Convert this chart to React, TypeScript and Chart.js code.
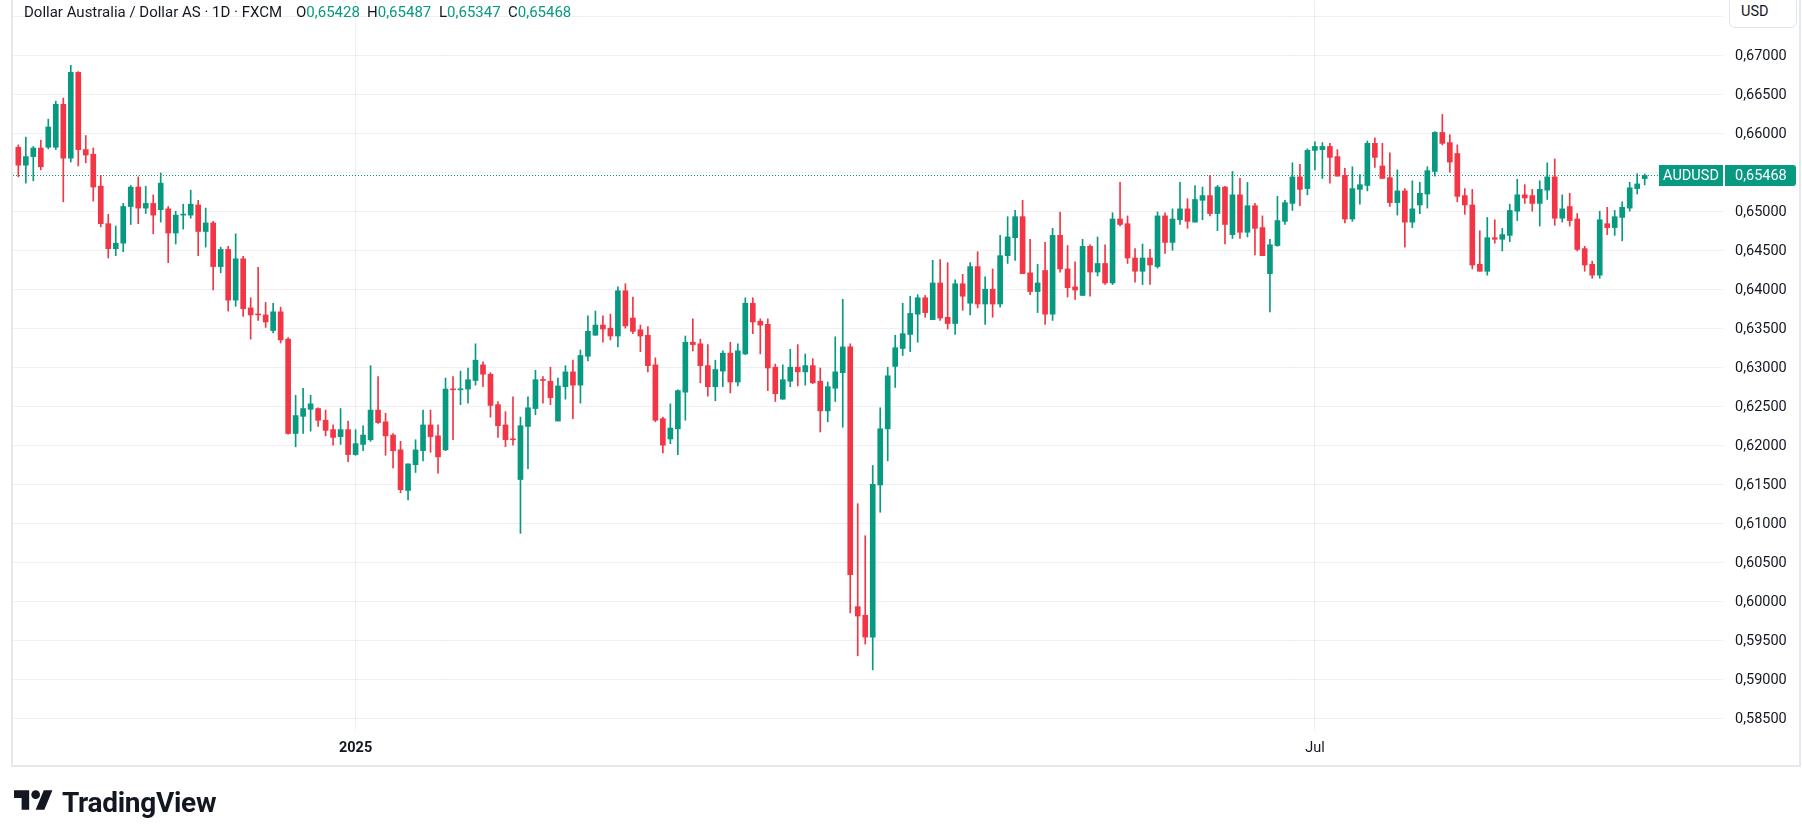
import React, { useEffect, useRef } from 'react';
import { Chart, registerables } from 'chart.js';

Chart.register(...registerables);

const UP = '#089981';
const DOWN = '#F23645';
const TEXT = '#131722';
const GRID = 'rgba(42, 46, 57, 0.07)';
const FRAME = '#e6e8ee';
const FONT = 'Roboto, "Liberation Sans", Arial, sans-serif';

const SYMBOL = 'AUDUSD';
const TITLE = 'Dollar Australia / Dollar AS · 1D · FXCM';
const CURRENCY = 'USD';

const OPEN = [
  0.6583, 0.6560, 0.6571, 0.6582, 0.6583, 0.6583, 0.6638, 0.6569, 0.6679, 0.6580,
  0.6574, 0.6533, 0.6485, 0.6453, 0.6460, 0.6507, 0.6532, 0.6505, 0.6511, 0.6503,
  0.6504, 0.6473, 0.6496, 0.6496, 0.6509, 0.6475, 0.6486, 0.6430, 0.6452, 0.6387,
  0.6440, 0.6377, 0.6369, 0.6368, 0.6348, 0.6372, 0.6337, 0.6216, 0.6238, 0.6247,
  0.6248, 0.6233, 0.6221, 0.6212, 0.6221, 0.6189, 0.6202, 0.6208, 0.6246, 0.6231,
  0.6214, 0.6195, 0.6143, 0.6176, 0.6194, 0.6227, 0.6213, 0.6195, 0.6273, 0.6272,
  0.6273, 0.6284, 0.6304, 0.6292, 0.6253, 0.6227, 0.6209, 0.6157, 0.6225, 0.6248,
  0.6285, 0.6283, 0.6232, 0.6276, 0.6295, 0.6278, 0.6315, 0.6342, 0.6355, 0.6351,
  0.6341, 0.6399, 0.6364, 0.6349, 0.6342, 0.6304, 0.6235, 0.6209, 0.6222, 0.6269,
  0.6333, 0.6331, 0.6303, 0.6276, 0.6296, 0.6319, 0.6282, 0.6318, 0.6383, 0.6360,
  0.6356, 0.6301, 0.6260, 0.6283, 0.6301, 0.6295, 0.6303, 0.6283, 0.6245, 0.6274,
  0.6294, 0.6327, 0.5994, 0.5983, 0.5955, 0.6150, 0.6222, 0.6302, 0.6325, 0.6343,
  0.6369, 0.6390, 0.6362, 0.6409, 0.6365, 0.6357, 0.6408, 0.6383, 0.6430, 0.6382,
  0.6401, 0.6382, 0.6444, 0.6467, 0.6494, 0.6422, 0.6398, 0.6425, 0.6369, 0.6470,
  0.6427, 0.6404, 0.6393, 0.6456, 0.6423, 0.6434, 0.6409, 0.6491, 0.6485, 0.6441,
  0.6424, 0.6441, 0.6430, 0.6495, 0.6461, 0.6490, 0.6504, 0.6487, 0.6515, 0.6521,
  0.6498, 0.6532, 0.6471, 0.6522, 0.6474, 0.6508, 0.6480, 0.6421, 0.6457, 0.6488,
  0.6511, 0.6545, 0.6530, 0.6579, 0.6580, 0.6584, 0.6571, 0.6547, 0.6491, 0.6529,
  0.6534, 0.6588, 0.6559, 0.6544, 0.6512, 0.6527, 0.6487, 0.6509, 0.6523, 0.6552,
  0.6602, 0.6589, 0.6575, 0.6521, 0.6509, 0.6433, 0.6424, 0.6467, 0.6465, 0.6470,
  0.6501, 0.6522, 0.6521, 0.6511, 0.6528, 0.6545, 0.6492, 0.6507, 0.6491, 0.6453,
  0.6433, 0.6419, 0.6485, 0.6480, 0.6493, 0.6505, 0.6530, 0.65428,
];

const HIGH = [
  0.6586, 0.6596, 0.6584, 0.6592, 0.6619, 0.6642, 0.6646, 0.6688, 0.6680, 0.6598,
  0.6582, 0.6547, 0.6497, 0.6482, 0.6511, 0.6534, 0.6545, 0.6533, 0.6522, 0.6550,
  0.6507, 0.6501, 0.6510, 0.6528, 0.6515, 0.6505, 0.6488, 0.6455, 0.6456, 0.6472,
  0.6443, 0.6390, 0.6429, 0.6384, 0.6383, 0.6378, 0.6339, 0.6265, 0.6274, 0.6265,
  0.6249, 0.6246, 0.6227, 0.6248, 0.6232, 0.6221, 0.6226, 0.6303, 0.6289, 0.6242,
  0.6216, 0.6206, 0.6177, 0.6208, 0.6246, 0.6246, 0.6227, 0.6287, 0.6289, 0.6296,
  0.6300, 0.6331, 0.6308, 0.6294, 0.6257, 0.6244, 0.6263, 0.6237, 0.6263, 0.6297,
  0.6289, 0.6301, 0.6287, 0.6303, 0.6310, 0.6323, 0.6367, 0.6373, 0.6367, 0.6369,
  0.6404, 0.6408, 0.6391, 0.6355, 0.6353, 0.6313, 0.6237, 0.6254, 0.6272, 0.6341,
  0.6363, 0.6337, 0.6330, 0.6310, 0.6322, 0.6333, 0.6331, 0.6390, 0.6390, 0.6363,
  0.6363, 0.6305, 0.6304, 0.6324, 0.6330, 0.6318, 0.6312, 0.6300, 0.6282, 0.6340,
  0.6388, 0.6331, 0.6126, 0.6085, 0.6175, 0.6249, 0.6301, 0.6342, 0.6383, 0.6392,
  0.6394, 0.6393, 0.6438, 0.6439, 0.6435, 0.6413, 0.6420, 0.6435, 0.6449, 0.6417,
  0.6427, 0.6470, 0.6494, 0.6502, 0.6515, 0.6465, 0.6433, 0.6461, 0.6479, 0.6500,
  0.6457, 0.6436, 0.6465, 0.6458, 0.6468, 0.6458, 0.6499, 0.6538, 0.6495, 0.6453,
  0.6459, 0.6452, 0.6500, 0.6499, 0.6504, 0.6538, 0.6517, 0.6534, 0.6532, 0.6547,
  0.6534, 0.6533, 0.6552, 0.6543, 0.6538, 0.6511, 0.6495, 0.6465, 0.6520, 0.6515,
  0.6563, 0.6561, 0.6581, 0.6590, 0.6589, 0.6588, 0.6580, 0.6556, 0.6558, 0.6548,
  0.6591, 0.6595, 0.6588, 0.6576, 0.6554, 0.6530, 0.6540, 0.6538, 0.6558, 0.6603,
  0.6625, 0.6599, 0.6586, 0.6530, 0.6529, 0.6476, 0.6493, 0.6490, 0.6479, 0.6510,
  0.6542, 0.6535, 0.6529, 0.6540, 0.6563, 0.6568, 0.6522, 0.6524, 0.6498, 0.6456,
  0.6437, 0.6501, 0.6506, 0.6502, 0.6513, 0.6538, 0.6549, 0.65487,
];

const LOW = [
  0.6545, 0.6537, 0.6540, 0.6554, 0.6581, 0.6580, 0.6513, 0.6564, 0.6559, 0.6563,
  0.6514, 0.6481, 0.6441, 0.6444, 0.6449, 0.6484, 0.6485, 0.6498, 0.6472, 0.6487,
  0.6435, 0.6459, 0.6478, 0.6492, 0.6444, 0.6455, 0.6400, 0.6422, 0.6373, 0.6379,
  0.6366, 0.6337, 0.6361, 0.6352, 0.6345, 0.6332, 0.6215, 0.6199, 0.6216, 0.6219,
  0.6225, 0.6213, 0.6201, 0.6202, 0.6180, 0.6188, 0.6194, 0.6206, 0.6229, 0.6188,
  0.6172, 0.6140, 0.6131, 0.6166, 0.6181, 0.6192, 0.6165, 0.6194, 0.6208, 0.6253,
  0.6255, 0.6278, 0.6276, 0.6237, 0.6211, 0.6199, 0.6201, 0.6088, 0.6171, 0.6240,
  0.6255, 0.6253, 0.6232, 0.6260, 0.6235, 0.6255, 0.6309, 0.6342, 0.6333, 0.6336,
  0.6327, 0.6351, 0.6344, 0.6321, 0.6295, 0.6231, 0.6191, 0.6203, 0.6189, 0.6233,
  0.6322, 0.6281, 0.6264, 0.6258, 0.6276, 0.6268, 0.6277, 0.6317, 0.6344, 0.6318,
  0.6271, 0.6257, 0.6260, 0.6276, 0.6277, 0.6278, 0.6280, 0.6218, 0.6231, 0.6257,
  0.6224, 0.5986, 0.5931, 0.5946, 0.5913, 0.6115, 0.6181, 0.6275, 0.6316, 0.6321,
  0.6333, 0.6365, 0.6362, 0.6361, 0.6350, 0.6343, 0.6374, 0.6368, 0.6377, 0.6356,
  0.6365, 0.6378, 0.6434, 0.6438, 0.6421, 0.6394, 0.6371, 0.6356, 0.6361, 0.6423,
  0.6391, 0.6388, 0.6393, 0.6392, 0.6418, 0.6407, 0.6407, 0.6482, 0.6434, 0.6410,
  0.6407, 0.6407, 0.6428, 0.6447, 0.6451, 0.6484, 0.6479, 0.6487, 0.6490, 0.6495,
  0.6476, 0.6459, 0.6466, 0.6466, 0.6468, 0.6445, 0.6444, 0.6372, 0.6456, 0.6484,
  0.6502, 0.6508, 0.6522, 0.6554, 0.6543, 0.6537, 0.6546, 0.6486, 0.6488, 0.6510,
  0.6527, 0.6557, 0.6543, 0.6507, 0.6496, 0.6455, 0.6480, 0.6498, 0.6505, 0.6546,
  0.6586, 0.6551, 0.6513, 0.6497, 0.6427, 0.6424, 0.6419, 0.6460, 0.6450, 0.6462,
  0.6489, 0.6511, 0.6501, 0.6482, 0.6516, 0.6483, 0.6487, 0.6482, 0.6450, 0.6424,
  0.6415, 0.6415, 0.6471, 0.6470, 0.6463, 0.6501, 0.6523, 0.65347,
];

const CLOSE = [
  0.6560, 0.6571, 0.6582, 0.6558, 0.6609, 0.6638, 0.6569, 0.6679, 0.6580, 0.6573,
  0.6532, 0.6485, 0.6453, 0.6460, 0.6507, 0.6532, 0.6505, 0.6511, 0.6496, 0.6537,
  0.6473, 0.6496, 0.6497, 0.6510, 0.6475, 0.6486, 0.6430, 0.6452, 0.6387, 0.6440,
  0.6376, 0.6368, 0.6368, 0.6359, 0.6372, 0.6336, 0.6216, 0.6239, 0.6248, 0.6254,
  0.6233, 0.6220, 0.6211, 0.6221, 0.6189, 0.6203, 0.6214, 0.6246, 0.6230, 0.6213,
  0.6194, 0.6144, 0.6177, 0.6195, 0.6227, 0.6212, 0.6186, 0.6273, 0.6272, 0.6273,
  0.6285, 0.6310, 0.6292, 0.6252, 0.6226, 0.6208, 0.6208, 0.6226, 0.6249, 0.6285,
  0.6284, 0.6262, 0.6277, 0.6295, 0.6278, 0.6316, 0.6347, 0.6355, 0.6350, 0.6341,
  0.6399, 0.6354, 0.6347, 0.6341, 0.6303, 0.6233, 0.6201, 0.6223, 0.6271, 0.6333,
  0.6330, 0.6303, 0.6276, 0.6298, 0.6319, 0.6282, 0.6322, 0.6383, 0.6359, 0.6355,
  0.6300, 0.6267, 0.6285, 0.6301, 0.6295, 0.6303, 0.6281, 0.6245, 0.6276, 0.6295,
  0.6327, 0.6035, 0.5982, 0.5955, 0.6151, 0.6222, 0.6290, 0.6326, 0.6344, 0.6370,
  0.6390, 0.6371, 0.6409, 0.6364, 0.6357, 0.6408, 0.6392, 0.6430, 0.6382, 0.6401,
  0.6382, 0.6444, 0.6468, 0.6494, 0.6421, 0.6398, 0.6409, 0.6369, 0.6470, 0.6427,
  0.6403, 0.6400, 0.6456, 0.6423, 0.6434, 0.6409, 0.6491, 0.6484, 0.6441, 0.6424,
  0.6441, 0.6432, 0.6495, 0.6461, 0.6491, 0.6504, 0.6488, 0.6516, 0.6521, 0.6498,
  0.6532, 0.6484, 0.6522, 0.6474, 0.6508, 0.6479, 0.6444, 0.6458, 0.6489, 0.6512,
  0.6545, 0.6529, 0.6579, 0.6584, 0.6584, 0.6570, 0.6546, 0.6491, 0.6530, 0.6535,
  0.6588, 0.6570, 0.6543, 0.6512, 0.6527, 0.6487, 0.6504, 0.6524, 0.6553, 0.6602,
  0.6588, 0.6564, 0.6520, 0.6509, 0.6432, 0.6424, 0.6467, 0.6465, 0.6471, 0.6502,
  0.6522, 0.6518, 0.6511, 0.6529, 0.6545, 0.6492, 0.6504, 0.6489, 0.6452, 0.6432,
  0.6419, 0.6490, 0.6480, 0.6494, 0.6506, 0.6531, 0.6536, 0.65468,
];

// price-axis tick values and time-axis ticks (bar index of first bar of period)
const PRICE_TICKS = [
  0.585, 0.59, 0.595, 0.6, 0.605, 0.61, 0.615, 0.62, 0.625, 0.63,
  0.635, 0.64, 0.645, 0.65, 0.655, 0.66, 0.665, 0.67, 0.675,
];
const TIME_TICK_INDEX = [45, 173];
const TIME_TICK_LABELS = ['2025', 'Jul'];

const fmt = (v: number) => v.toFixed(5).replace('.', ',');

export default function App() {
  const ref = useRef<HTMLCanvasElement>(null);

  useEffect(() => {
    const canvas = ref.current;
    if (!canvas) return;
    const idx = OPEN.map((_, i) => i);
    const colors = CLOSE.map((c, i) => (c >= OPEN[i] ? UP : DOWN));
    const last = CLOSE.length - 1;

    const overlay = {
      id: 'tvOverlay',
      beforeDatasetsDraw(chart: any) {
        const { ctx, chartArea: a, scales } = chart;
        const y = Math.round(scales.y.getPixelForValue(CLOSE[last])) + 0.5;
        ctx.save();
        ctx.strokeStyle = UP;
        ctx.lineWidth = 1;
        ctx.setLineDash([1, 2]);
        ctx.beginPath();
        ctx.moveTo(a.left, y);
        ctx.lineTo(a.right - 64, y);
        ctx.stroke();
        ctx.restore();
      },
      afterDraw(chart: any) {
        const { ctx, chartArea: a, scales } = chart;
        const yc = scales.y.getPixelForValue(CLOSE[last]);
        const top = Math.round(yc - 10.5);
        const h = 21;
        ctx.save();
        ctx.fillStyle = UP;
        ctx.fillRect(a.right - 64, top, 64, h);
        ctx.beginPath();
        if (ctx.roundRect) ctx.roundRect(a.right + 2, top, 71, h, [0, 3, 3, 0]);
        else ctx.rect(a.right + 2, top, 71, h);
        ctx.fill();
        ctx.fillStyle = '#ffffff';
        ctx.font = `14.5px ${FONT}`;
        ctx.textBaseline = 'middle';
        ctx.textAlign = 'center';
        ctx.fillText(SYMBOL, a.right - 32, top + h / 2 + 0.5);
        ctx.textAlign = 'left';
        ctx.fillText(fmt(CLOSE[last]), a.right + 12, top + h / 2 + 0.5);
        // outer frame
        ctx.strokeStyle = FRAME;
        ctx.lineWidth = 2;
        const L = a.left - 1;
        const B = scales.x.bottom + 1;
        const R = scales.y.right;
        ctx.beginPath();
        ctx.moveTo(L, 0);
        ctx.lineTo(L, B);
        ctx.lineTo(R, B);
        ctx.lineTo(R, 0);
        ctx.stroke();
        ctx.restore();
      },
    };

    const chart = new Chart(canvas, {
      type: 'bar',
      data: {
        datasets: [
          {
            label: 'body',
            data: idx.map((i) => ({ x: i, y: [OPEN[i], CLOSE[i]] })) as any,
            backgroundColor: colors,
            barThickness: 5,
            minBarLength: 1,
            grouped: false,
            order: 0,
            borderWidth: 0,
          } as any,
          {
            label: 'wick',
            data: idx.map((i) => ({ x: i, y: [LOW[i], HIGH[i]] })) as any,
            backgroundColor: colors,
            barThickness: 1,
            grouped: false,
            order: 1,
            borderWidth: 0,
          } as any,
        ],
      },
      options: {
        animation: false,
        responsive: false,
        devicePixelRatio: 1,
        events: [],
        layout: { padding: { left: 13, right: 2, top: 1, bottom: 75 } },
        plugins: { legend: { display: false }, tooltip: { enabled: false }, title: { display: false } },
        scales: {
          x: {
            type: 'linear',
            min: -0.71,
            max: 227.45,
            offset: false,
            border: { display: false },
            grid: { color: GRID, drawTicks: false, offset: false },
            afterBuildTicks: (s: any) => {
              s.ticks = TIME_TICK_INDEX.map((v) => ({ value: v }));
            },
            afterFit: (s: any) => {
              s.height = 34;
              s.paddingLeft = 0;
              s.paddingRight = 0;
            },
            ticks: {
              autoSkip: false,
              maxRotation: 0,
              padding: 9,
              color: TEXT,
              font: (c: any) => ({ family: FONT, size: 14.5, weight: c.index === 0 ? 'bold' : 'normal' }),
              callback: (_v: any, i: number) => TIME_TICK_LABELS[i],
            },
          } as any,
          y: {
            type: 'linear',
            position: 'right',
            min: 0.58346,
            max: 0.67705,
            border: { display: false },
            grid: { color: GRID, drawTicks: false },
            afterBuildTicks: (s: any) => {
              s.ticks = PRICE_TICKS.map((v) => ({ value: v }));
            },
            afterFit: (s: any) => {
              s.width = 77;
              s.paddingTop = 0;
              s.paddingBottom = 0;
            },
            ticks: {
              autoSkip: false,
              padding: 12,
              color: TEXT,
              font: { family: FONT, size: 14.5 },
              callback: (v: any) => fmt(Number(v)),
            },
          } as any,
        },
      } as any,
      plugins: [overlay],
    });
    return () => chart.destroy();
  }, []);

  const last = CLOSE.length - 1;
  const head = { position: 'absolute' as const, top: 5, fontFamily: FONT, fontSize: 15, lineHeight: 1, whiteSpace: 'nowrap' as const };
  const ohlc = [
    { k: 'O', v: OPEN[last], x: 296 },
    { k: 'H', v: HIGH[last], x: 367 },
    { k: 'L', v: LOW[last], x: 439 },
    { k: 'C', v: CLOSE[last], x: 508 },
  ];

  return (
    <div style={{ position: 'fixed', left: 0, top: 0, width: 1802, height: 840, background: '#ffffff', overflow: 'hidden' }}>
      <canvas ref={ref} width={1802} height={840} style={{ position: 'absolute', left: 0, top: 0, width: 1802, height: 840 }} />
      <div style={{ ...head, left: 24, color: TEXT, fontSize: 15 }}>{TITLE}</div>
      {ohlc.map((o) => (
        <div key={o.k} style={{ ...head, left: o.x, color: TEXT }}>
          {o.k}
          <span style={{ color: UP }}>{fmt(o.v)}</span>
        </div>
      ))}
      <div
        style={{
          position: 'absolute', left: 1729, top: -4, width: 66, height: 30,
          border: '1px solid #e0e3eb', borderRadius: 6, background: '#fff',
        }}
      />
      <div style={{ ...head, top: 5, left: 1741, color: TEXT, fontSize: 14.5 }}>{CURRENCY}</div>
      <svg
        style={{ position: 'absolute', left: 14, top: 786 }}
        width={39}
        height={30.3}
        viewBox="0 0 36 28"
      >
        <path d="M14 22H7V11H0V4h14v18zM28 22h-8l7.5-18h8L28 22z" fill="#131722" />
        <circle cx="20" cy="8" r="4" fill="#131722" />
      </svg>
      <div
        style={{
          position: 'absolute', left: 62, top: 789, fontFamily: FONT, fontSize: 28,
          fontWeight: 700, lineHeight: 1, color: '#131722', letterSpacing: -0.3,
        }}
      >
        TradingView
      </div>
    </div>
  );
}
